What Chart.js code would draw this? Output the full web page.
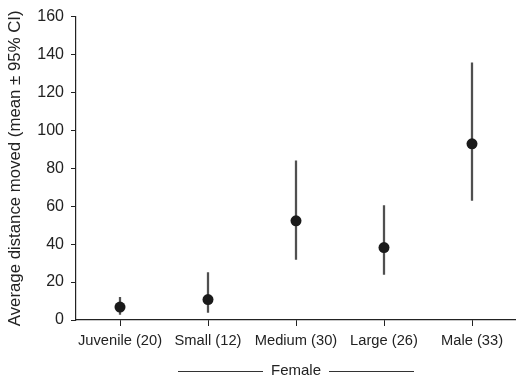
<!DOCTYPE html>
<html>
<head>
<meta charset="utf-8">
<script src="https://cdn.jsdelivr.net/npm/chart.js@4.4.1/dist/chart.umd.min.js"></script>
<style>
    body { margin: 0; background: #fff; }
    #chartContainer { width: 516px; height: 380px; }
</style>
</head>
<body>
<div id="chartContainer"><canvas id="chart"></canvas></div>
<script>
const categories = ['Juvenile (20)', 'Small (12)', 'Medium (30)', 'Large (26)', 'Male (33)']
const means = [6.8, 10.8, 52.3, 38.2, 92.9]
const ciLow = [3, 4, 32, 24, 63]
const ciHigh = [12, 25, 84, 60.3, 135.6]
const yTicks = [0, 20, 40, 60, 80, 100, 120, 140, 160]
const groupLabel = 'Female'

const font = 'Liberation Sans, Arial, sans-serif'

// lines either side of the "Female" axis title
const groupLines = {
    id: 'groupLines',
    afterDraw(chart) {
        const ctx = chart.ctx
        const x = chart.scales.x.getPixelForValue(2)
        const y = 371
        ctx.save()
        ctx.strokeStyle = '#333'
        ctx.lineWidth = 1
        ctx.beginPath()
        ctx.moveTo(x - 118, y + 0.5)
        ctx.lineTo(x - 33, y + 0.5)
        ctx.moveTo(x + 33, y + 0.5)
        ctx.lineTo(x + 118, y + 0.5)
        ctx.stroke()
        ctx.restore()
    }
}

window.onload = init

function init() {
    const data = {
        labels: categories,
        datasets: [{
            type: 'line',
            label: 'Mean',
            data: means,
            showLine: false,
            pointRadius: 5.5,
            pointHoverRadius: 5.5,
            pointBackgroundColor: '#1a1a1a',
            pointBorderColor: '#1a1a1a',
            pointBorderWidth: 0,
            order: 0
        }, {
            type: 'bar',
            label: '95% CI',
            data: categories.map((c, i) => [ciLow[i], ciHigh[i]]),
            backgroundColor: '#505050',
            borderWidth: 0,
            barThickness: 1.6,
            order: 1
        }]
    }

    const options = {
        responsive: true,
        maintainAspectRatio: false,
        animation: false,
        layout: { autoPadding: false, padding: { top: 11, right: -7, bottom: 0, left: 0 } },
        plugins: {
            legend: { display: false },
            tooltip: { enabled: false }
        },
        scales: {
            x: {
                type: 'category',
                offset: true,
                grid: { offset: false, drawOnChartArea: false, drawTicks: true, tickLength: 6, color: '#222' },
                border: { color: '#222', width: 1.2 },
                ticks: { color: '#222', font: { family: font, size: 14.7 }, padding: 6, maxRotation: 0, autoSkip: false },
                title: { display: true, text: groupLabel, color: '#222', font: { family: font, size: 15 }, padding: 0 },
                afterFit(scale) {
                    scale.height = 60
                    scale.paddingLeft = 0
                    scale.paddingRight = 0
                }
            },
            y: {
                min: 0,
                max: 160,
                afterBuildTicks(scale) { scale.ticks = yTicks.map(v => ({ value: v })) },
                grid: { drawOnChartArea: false, drawTicks: true, tickLength: 5, color: '#222' },
                border: { color: '#222', width: 1.2 },
                ticks: { color: '#222', font: { family: font, size: 16 }, padding: 7 },
                title: { display: true, text: 'Average distance moved (mean ± 95% CI)', color: '#222', font: { family: font, size: 16.8 }, padding: { top: 5, bottom: 0 } },
                afterFit(scale) { scale.width = 76 }
            }
        }
    }

    new Chart('chart', {
        data: data,
        options: options,
        plugins: [groupLines]
    })
}
</script>
</body>
</html>
